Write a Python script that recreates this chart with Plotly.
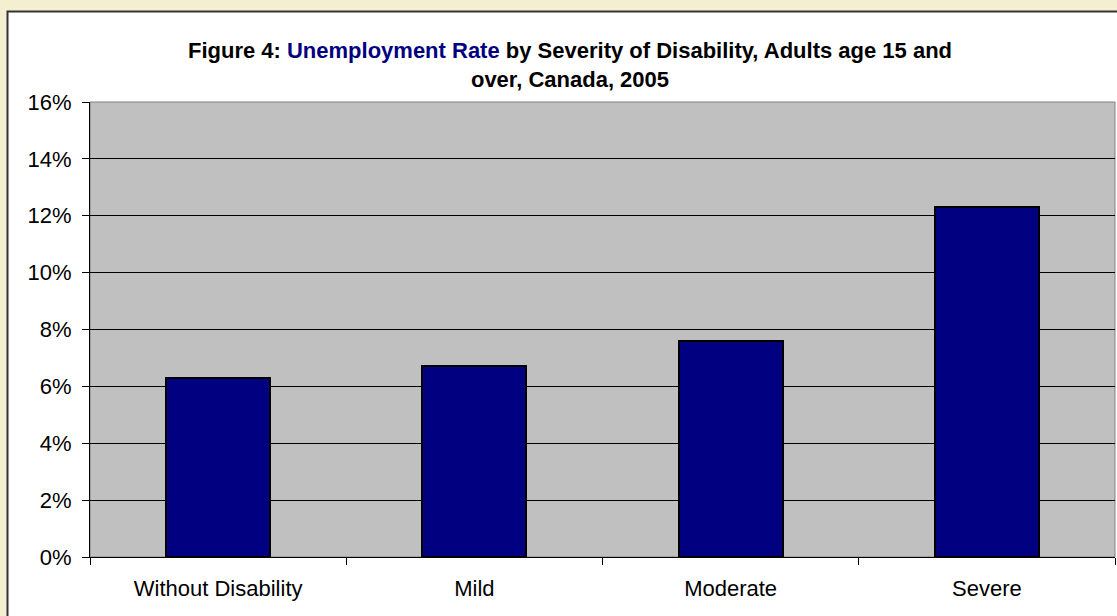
import plotly.graph_objects as go

categories = ["Without Disability", "Mild", "Moderate", "Severe"]
rates = [6.3, 6.7, 7.6, 12.3]
y_ticks = [0, 2, 4, 6, 8, 10, 12, 14, 16]
y_tick_labels = [f"{v}%" for v in y_ticks]

W, H = 1117, 616
L, R, T, B = 90, 2, 102, 59
pw, ph = W - L - R, H - T - B

def px_x(p):
    return (p - L) / pw

def px_y(p):
    return (H - B - p) / ph

fig = go.Figure()
fig.add_trace(go.Bar(
    x=categories, y=rates,
    marker=dict(color="#000080", line=dict(color="#000000", width=2)),
    width=0.405,
))

fig.update_layout(
    width=W, height=H,
    margin=dict(l=L, r=R, t=T, b=B, pad=0),
    paper_bgcolor="#F5EFD1",
    plot_bgcolor="#C0C0C0",
    showlegend=False,
    font=dict(family="Liberation Sans, Arial, sans-serif", color="#000000"),
    title=dict(
        text="Figure 4: <span style='color:#000080'>Unemployment Rate</span> by Severity of Disability, Adults age 15 and<br>over, Canada, 2005",
        font=dict(size=22, weight="bold", color="#000000"),
        x=570 / W, xanchor="center", xref="container",
        y=1 - 58 / H, yanchor="middle", yref="container",
    ),
    bargap=0,
)

fig.update_xaxes(
    showgrid=False,
    showline=True, linecolor="#000000", linewidth=1,
    ticks="outside", tickson="boundaries", ticklen=7, tickcolor="#000000",
    tickfont=dict(size=22),
    ticklabelstandoff=12,
)
fig.update_yaxes(
    range=[0, 16],
    tickvals=y_ticks, ticktext=y_tick_labels,
    showgrid=True, gridcolor="#000000", gridwidth=1,
    showline=True, linecolor="#000000", linewidth=1,
    ticks="outside", ticklen=7, tickcolor="#000000",
    tickfont=dict(size=22),
    ticklabelstandoff=6,
    zeroline=False,
)

# white chart panel with border
fig.add_shape(type="rect", xref="paper", yref="paper", layer="below",
              x0=px_x(7.5), x1=px_x(1130), y0=px_y(630), y1=px_y(11.5),
              fillcolor="#FFFFFF", line=dict(color="#333333", width=2))
# grey plot area
fig.add_shape(type="rect", xref="paper", yref="paper", layer="below",
              x0=0, x1=1, y0=0, y1=1,
              fillcolor="#C0C0C0", line=dict(color="#808080", width=1))

fig.write_html("out.html")
